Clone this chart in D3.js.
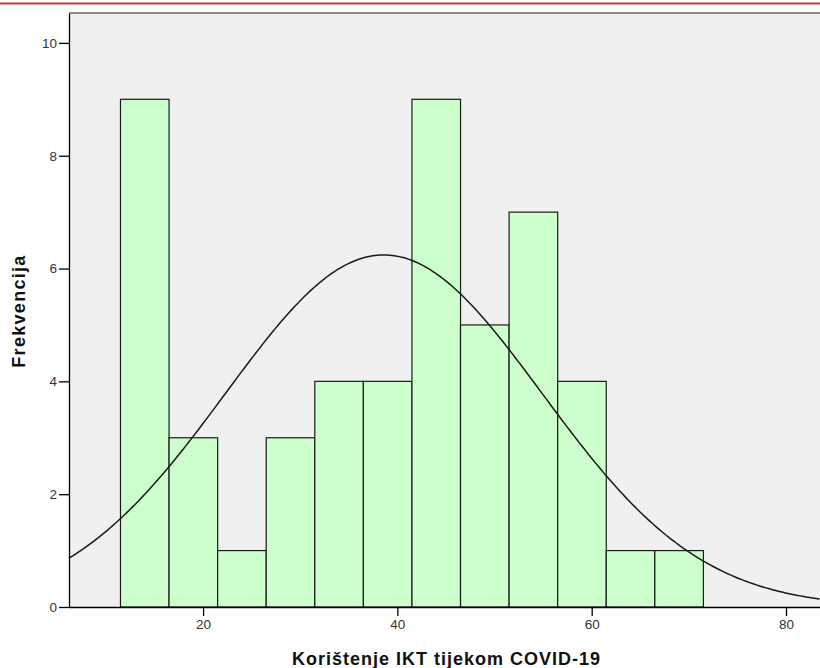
<!DOCTYPE html>
<html>
<head>
<meta charset="utf-8">
<script src="https://cdn.jsdelivr.net/npm/d3@7"></script>
<style>
  html, body { margin: 0; padding: 0; background: #fff; }
  #chart { width: 820px; height: 668px; overflow: hidden; }
  text { font-family: "Liberation Sans", Arial, sans-serif; }
</style>
</head>
<body>
<div id="chart"></div>
<script>
// histogram bins (lower edge of each bin) and their frequencies
const binEdges = [11.5, 16.5, 21.5, 26.5, 31.5, 36.5, 41.5, 46.5, 51.5, 56.5, 61.5, 66.5, 71.5];
const counts = [9, 3, 1, 3, 4, 4, 9, 5, 7, 4, 1, 1];
const xTicks = [20, 40, 60, 80];
const yTicks = [0, 2, 4, 6, 8, 10];

// fitted normal curve parameters (as printed by the stats package)
const curveMean = 38.6;
const curveSd = 16.3;
const curveN = 51;

const xLabel = "Korištenje IKT tijekom COVID-19";
const yLabel = "Frekvencija";

const plot = { left: 69, top: 13, right: 820, bottom: 607 };

const svg = d3.select("#chart")
  .append("svg")
  .attr("width", 820)
  .attr("height", 668);

// red strip on top
svg.append("rect")
  .attr("x", 0).attr("y", 2.5)
  .attr("width", 820).attr("height", 2)
  .attr("fill", "#cc3333");

let x = d3.scaleLinear()
  .domain([6.2, 83.5])
  .range([plot.left, plot.right]);

let y = d3.scaleLinear()
  .domain([0, 10.53])
  .range([plot.bottom, plot.top]);

// plot background
svg.append("rect")
  .attr("x", plot.left)
  .attr("y", plot.top)
  .attr("width", plot.right - plot.left + 10)
  .attr("height", plot.bottom - plot.top)
  .attr("fill", "#f0f0f0");

svg.append("line")
  .attr("x1", plot.left).attr("x2", 830)
  .attr("y1", plot.top).attr("y2", plot.top)
  .attr("stroke", "#8a8a8a")
  .attr("stroke-width", 2);

let bins = counts.map((c, i) => ({ x0: binEdges[i], x1: binEdges[i + 1], count: c }));

svg.append("g")
  .selectAll("rect")
  .data(bins)
  .enter()
  .append("rect")
  .attr("x", d => x(d.x0))
  .attr("y", d => y(d.count))
  .attr("width", d => x(d.x1) - x(d.x0))
  .attr("height", d => y(0) - y(d.count))
  .attr("fill", "#ccffcc")
  .attr("stroke", "#1a1a1a")
  .attr("stroke-width", 1.2);

// normal curve scaled to counts
const binWidth = binEdges[1] - binEdges[0];
const dom = x.domain();
let pts = d3.range(dom[0], dom[1] + 0.01, 0.25).map(v => {
  const z = (v - curveMean) / curveSd;
  return [v, curveN * binWidth * Math.exp(-0.5 * z * z) / (curveSd * Math.sqrt(2 * Math.PI))];
});

svg.append("path")
  .datum(pts)
  .attr("fill", "none")
  .attr("stroke", "#1a1a1a")
  .attr("stroke-width", 1.5)
  .attr("d", d3.line().x(d => x(d[0])).y(d => y(d[1])));

// axes
let xAxis = svg.append("g")
  .attr("transform", `translate(0,${plot.bottom})`)
  .call(d3.axisBottom(x).tickValues(xTicks).tickSize(9).tickSizeOuter(0).tickPadding(3));

let yAxis = svg.append("g")
  .attr("transform", `translate(${plot.left},0)`)
  .call(d3.axisLeft(y).tickValues(yTicks).tickSize(10).tickSizeOuter(0).tickPadding(2));

[xAxis, yAxis].forEach(a => {
  a.select(".domain").attr("stroke", "#000").attr("stroke-width", 1.3);
  a.selectAll(".tick line").attr("stroke", "#000").attr("stroke-width", 1.3);
  a.selectAll(".tick text")
    .attr("fill", "#333")
    .style("font-size", "13.5px")
    .style("font-family", "'Liberation Sans', Arial, sans-serif");
});

svg.append("text")
  .attr("x", (plot.left + plot.right) / 2 + 2)
  .attr("y", 665)
  .attr("text-anchor", "middle")
  .style("font-size", "18px")
  .style("font-weight", "bold")
  .style("letter-spacing", "1px")
  .attr("fill", "#111")
  .text(xLabel);

svg.append("text")
  .attr("transform", `translate(25,${(plot.top + plot.bottom) / 2 + 1}) rotate(-90)`)
  .attr("text-anchor", "middle")
  .style("font-size", "18px")
  .style("font-weight", "bold")
  .style("letter-spacing", "1.3px")
  .attr("fill", "#111")
  .text(yLabel);
</script>
</body>
</html>
